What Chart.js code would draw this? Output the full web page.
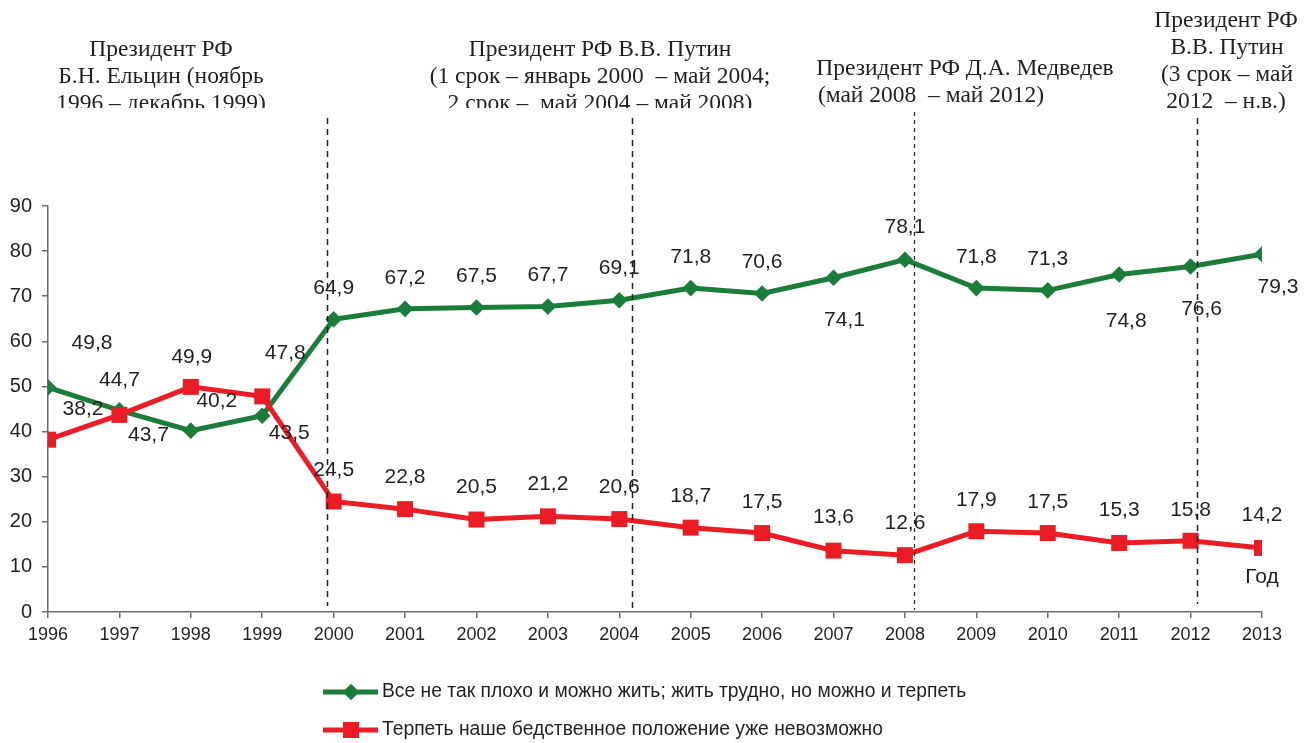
<!DOCTYPE html>
<html><head><meta charset="utf-8">
<script src="https://cdn.jsdelivr.net/npm/chart.js@4.4.0/dist/chart.umd.min.js"></script>
<style>html,body{margin:0;padding:0;background:#fff}canvas{display:block}</style>
</head><body>
<canvas id="c" width="1316" height="743"></canvas>
<script>
const years = [1996,1997,1998,1999,2000,2001,2002,2003,2004,2005,2006,2007,2008,2009,2010,2011,2012,2013];
const seriesGreen = [49.8,44.7,40.2,43.5,64.9,67.2,67.5,67.7,69.1,71.8,70.6,74.1,78.1,71.8,71.3,74.8,76.6,79.3];
const seriesRed = [38.2,43.7,49.9,47.8,24.5,22.8,20.5,21.2,20.6,18.7,17.5,13.6,12.6,17.9,17.5,15.3,15.8,14.2];
const labelGreen = 'Все не так плохо и можно жить; жить трудно, но можно и терпеть';
const labelRed = 'Терпеть наше бедственное положение уже невозможно';
const yTickValues = [0,10,20,30,40,50,60,70,80,90];
const axisTitleX = 'Год';

// label placement (dx, dy from point, px)
const greenLabelOffsets = [[44,-44],[0,-30],[26,-29],[27,17],[0,-31],[0,-31],[0,-31],[0,-31],[0,-32],[0,-31],[0,-31],[11,42],[0,-32],[0,-31],[0,-31],[7,47],[11,43],[16,33]];
const redLabelOffsets = [[35,-30],[29,20],[1,-30],[23,-43],[0,-31],[0,-32],[0,-32],[0,-32],[0,-32],[0,-31],[0,-31],[0,-33],[0,-32],[0,-31],[0,-31],[0,-33],[0,-31],[0,-33]];

// presidency boundaries (fractional year) and captions
const periodLines = [
  {x:1999.9, top:118, bottom:6, dash:[6,5], w:1.5},
  {x:2004.18, top:118, bottom:4, dash:[6,5], w:1.5},
  {x:2008.13, top:112, bottom:2, dash:[4,4], w:1.2},
  {x:2012.09, top:118, bottom:8, dash:[6,5], w:1.5}
];
const periodTexts = [
  {clip:108, lines:[['Президент РФ',161,56],['Б.Н. Ельцин (ноябрь',161,83],['1996 – декабрь 1999)',161,110]]},
  {clip:108, lines:[['Президент РФ В.В. Путин',600,56],['(1 срок – январь 2000  – май 2004;',600,83],['2 срок –  май 2004 – май 2008)',600,110]]},
  {clip:null, lines:[['Президент РФ Д.А. Медведев',965,75],['(май 2008  – май 2012)',931,102]]},
  {clip:null, lines:[['Президент РФ',1226,27],['В.В. Путин',1227,54],['(3 срок – май',1227,81],['2012  – н.в.)',1226,108]]}
];

const GREEN = '#1a7d3b';
const RED = '#ec1c24';
const TXT = '#231f20';

const fmt = v => v.toFixed(1).replace('.', ',');

const overlay = {
  id: 'overlay',
  afterDatasetsDraw(chart) {
    const ctx = chart.ctx;
    const xs = chart.scales.x, ys = chart.scales.y;
    const area = chart.chartArea;
    ctx.save();
    ctx.strokeStyle = '#222';
    periodLines.forEach(p => {
      const px = Math.round(xs.getPixelForValue(p.x)) + 0.5;
      ctx.lineWidth = p.w;
      ctx.setLineDash(p.dash);
      ctx.beginPath();
      ctx.moveTo(px, p.top);
      ctx.lineTo(px, area.bottom - p.bottom);
      ctx.stroke();
    });
    ctx.setLineDash([]);
    ctx.restore();

    ctx.save();
    ctx.font = '21px "Liberation Sans", Arial, sans-serif';
    ctx.fillStyle = TXT;
    ctx.textAlign = 'center';
    ctx.textBaseline = 'middle';
    const drawLabels = (dsIndex, vals, offs) => {
      const meta = chart.getDatasetMeta(dsIndex);
      meta.data.forEach((pt, i) => {
        ctx.fillText(fmt(vals[i]), pt.x + offs[i][0], pt.y + offs[i][1]);
      });
    };
    drawLabels(0, seriesGreen, greenLabelOffsets);
    drawLabels(1, seriesRed, redLabelOffsets);
    ctx.fillText(axisTitleX, xs.getPixelForValue(2013), ys.getPixelForValue(7.8));
    ctx.restore();
  },
  afterDraw(chart) {
    const ctx = chart.ctx;
    ctx.save();
    ctx.fillStyle = TXT;
    ctx.font = '23.5px "Liberation Serif", "Times New Roman", serif';
    ctx.textAlign = 'center';
    ctx.textBaseline = 'alphabetic';
    periodTexts.forEach(b => {
      ctx.save();
      if (b.clip) { ctx.beginPath(); ctx.rect(0, 0, chart.width, b.clip); ctx.clip(); }
      b.lines.forEach(l => ctx.fillText(l[0], l[1], l[2]));
      ctx.restore();
    });
    // legend
    const items = [
      {c: GREEN, t: labelGreen, y: 692, style: 'rectRot', r: 8},
      {c: RED, t: labelRed, y: 730, style: 'rect', r: 11.3}
    ];
    ctx.font = '19.3px "Liberation Sans", Arial, sans-serif';
    ctx.textAlign = 'left';
    ctx.textBaseline = 'middle';
    items.forEach(it => {
      ctx.strokeStyle = it.c;
      ctx.lineWidth = 5;
      ctx.beginPath();
      ctx.moveTo(323, it.y); ctx.lineTo(378, it.y);
      ctx.stroke();
      ctx.fillStyle = it.c;
      Chart.helpers.drawPoint(ctx, {pointStyle: it.style, radius: it.r, borderWidth: 0}, 351, it.y);
      ctx.fill();
      ctx.fillStyle = TXT;
      ctx.fillText(it.t, 382, it.y);
    });
    ctx.restore();
  }
};

new Chart(document.getElementById('c'), {
  type: 'line',
  data: {
    datasets: [
      {
        label: labelGreen,
        data: years.map((y, i) => ({x: y, y: seriesGreen[i]})),
        borderColor: GREEN, backgroundColor: GREEN,
        borderWidth: 5, pointStyle: 'rectRot', pointRadius: 8.3,
        pointBorderWidth: 0, tension: 0, order: 2
      },
      {
        label: labelRed,
        data: years.map((y, i) => ({x: y, y: seriesRed[i]})),
        borderColor: RED, backgroundColor: RED,
        borderWidth: 5, pointStyle: 'rect', pointRadius: 11.3,
        pointBorderWidth: 0, tension: 0, order: 1
      }
    ]
  },
  options: {
    responsive: false,
    animation: false,
    devicePixelRatio: 1,
    layout: {padding: {top: 206, right: 54, left: 0, bottom: 0}},
    plugins: {legend: {display: false}, tooltip: {enabled: false}},
    scales: {
      x: {
        type: 'linear', min: years[0], max: years[years.length - 1],
        afterBuildTicks: s => { s.ticks = years.map(v => ({value: v})); },
        afterFit: s => { s.height = 131; },
        ticks: {callback: v => String(v), autoSkip: false, maxRotation: 0, padding: 6,
          font: {family: '"Liberation Sans", Arial, sans-serif', size: 18}, color: TXT},
        grid: {display: true, drawOnChartArea: false, drawTicks: true, tickLength: 6, color: '#6d6d6d', lineWidth: 1.5},
        border: {display: true, color: '#6d6d6d', width: 1.5}
      },
      y: {
        min: 0, max: 90,
        afterBuildTicks: s => { s.ticks = yTickValues.map(v => ({value: v})); },
        afterFit: s => { s.width = 48; },
        ticks: {padding: 10, font: {family: '"Liberation Sans", Arial, sans-serif', size: 20}, color: TXT},
        grid: {display: true, drawOnChartArea: false, drawTicks: true, tickLength: 6, color: '#6d6d6d', lineWidth: 1.5},
        border: {display: true, color: '#6d6d6d', width: 1.5}
      }
    }
  },
  plugins: [overlay]
});
</script>
</body></html>
